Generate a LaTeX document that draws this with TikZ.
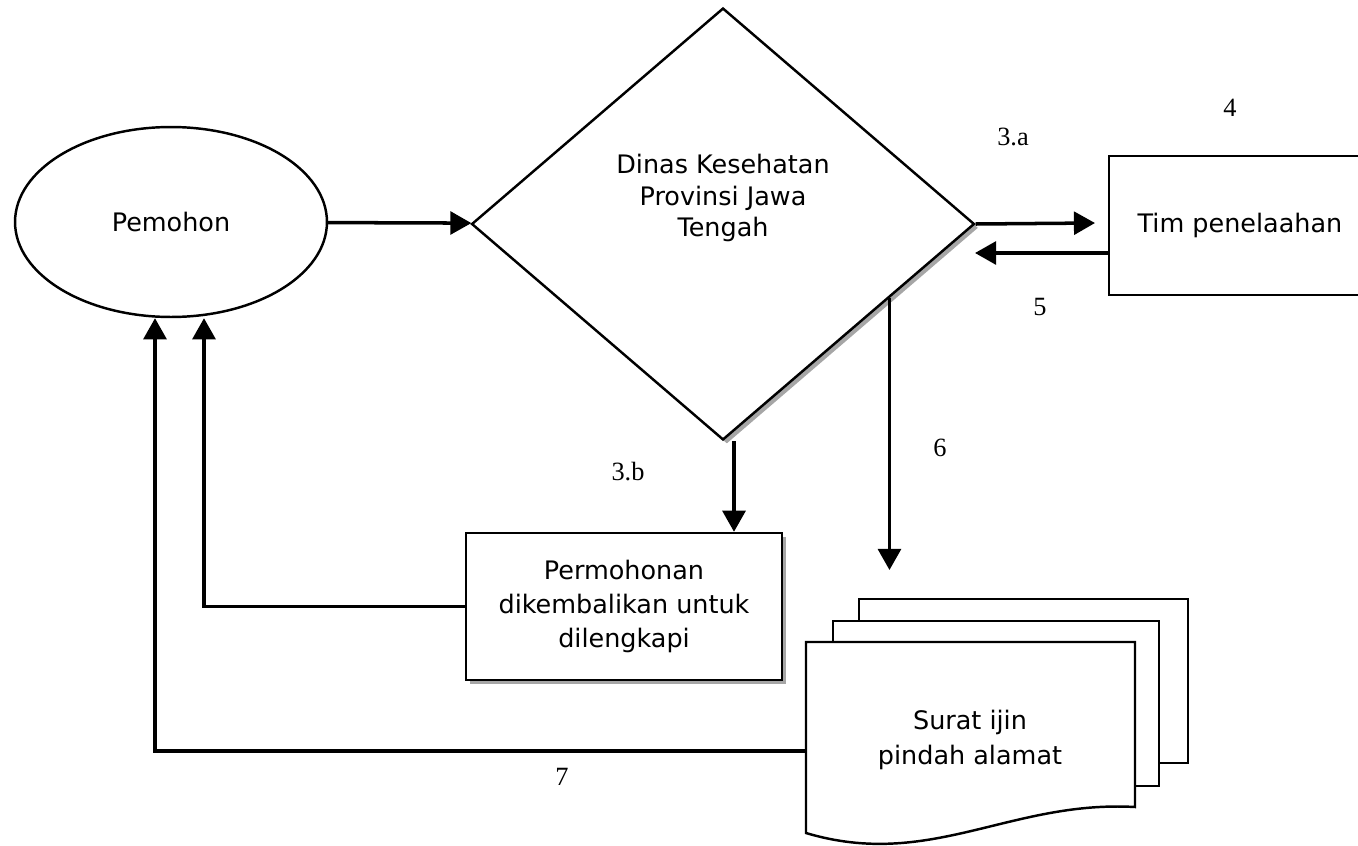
\documentclass[tikz,border=0pt]{standalone}
\usepackage{fontspec}
\setmainfont{DejaVu Sans}
\newfontfamily\numfont{Liberation Serif}
\usetikzlibrary{shapes.geometric,arrows.meta,shadows}
\begin{document}
\begin{tikzpicture}[x=0.02cm,y=-0.02cm]
    \tikzset{box/.style = {shape=rectangle,draw,line width=1.4pt,fill=white,align=center,inner sep=0pt,font=\fontsize{14.5}{19.5}\selectfont}}
    \tikzset{flow/.style = {line width=2pt,-{Triangle[length=12pt,width=13pt]}}}
    \tikzset{num/.style = {font=\numfont\fontsize{15}{17}\selectfont}}
    \tikzset{boxshadow/.style = {drop shadow={shadow xshift=2.2pt,shadow yshift=-2.2pt,fill=black!35,opacity=1}}}
    \useasboundingbox (0,0) rectangle (1358,845);
    \clip (0,0) rectangle (1358,845);
    % applicant and office
    \node[box,shape=ellipse,minimum width=6.24cm,minimum height=3.8cm] (pemohon) at (171,222) {Pemohon};
    \node[box,shape=diamond,boxshadow,minimum width=10.06cm,minimum height=8.64cm] (dinas) at (723,224) {};
    \node[align=center,font=\fontsize{14.5}{18}\selectfont] (dinastext) at (723,198) {Dinas Kesehatan\\Provinsi Jawa\\Tengah};
    % review team and returned application
    \node[box,minimum width=5.24cm,minimum height=2.78cm] (tim) at (1240,225.5) {Tim penelaahan};
    \node[box,boxshadow,minimum width=6.32cm,minimum height=2.94cm] (kembali) at (624,606.5) {Permohonan\\dikembalikan untuk\\dilengkapi};
    % stack of letters
    \draw[line width=1.4pt,fill=white] (859,599) rectangle (1188,763);
    \draw[line width=1.4pt,fill=white] (833,621) rectangle (1159,786);
    \draw[line width=1.4pt,fill=white] (806,642) -- (1135,642) -- (1135,807)
        .. controls (1010,800) and (930,870) .. (806,833) -- cycle;
    \node[align=center,font=\fontsize{14.5}{19.5}\selectfont] (surat) at (970,740) {Surat ijin\\pindah alamat};
    % free ends and turning points
    \coordinate (suratW) at (806,751);
    \coordinate (end3a) at (1095,223);
    \coordinate (end5) at (975,253);
    \coordinate (end6) at (888,570);
    \coordinate (col3b) at (734,0);
    \coordinate (col7) at (155,0);
    \coordinate (colback) at (204,0);
    % connectors
    \draw[flow] (pemohon) -- (dinas);
    \draw[flow] (dinas.east) -- (end3a);
    \draw[flow] (tim.west |- end5) -- (end5);
    \draw[flow] (dinas.-24.7) -- (dinas.-24.7 |- end6);
    \draw[flow] (dinas.south -| col3b) -- (kembali.north -| col3b);
    \draw[flow] (kembali.west) -| (pemohon.south -| colback);
    \draw[flow] (suratW) -| (pemohon.south -| col7);
    % step numbers
    \node[num] (n3a) at (1013,137) {3.a};
    \node[num] (n4) at (1230,108) {4};
    \node[num] (n5) at (1040,307) {5};
    \node[num] (n6) at (940,448) {6};
    \node[num] (n3b) at (628,472) {3.b};
    \node[num] (n7) at (562,777) {7};
\end{tikzpicture}
\end{document}
